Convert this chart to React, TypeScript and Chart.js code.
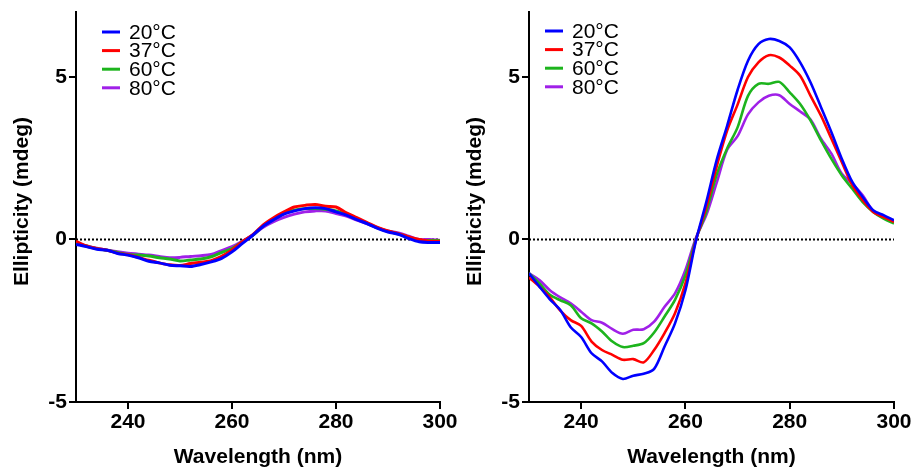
import React, { useEffect, useRef } from 'react';
import { Chart, registerables } from 'chart.js';

Chart.register(...registerables);

// ---- data ----
const wavelengths = [230, 232, 234, 236, 238, 240, 242, 244, 246, 248, 250, 252, 254, 256, 258, 260, 262, 264, 266, 268, 270, 272, 274, 276, 278, 280, 282, 284, 286, 288, 290, 292, 294, 296, 298, 300];
const seriesLabels = ['20°C', '37°C', '60°C', '80°C'];
const seriesColors = ['#0000ff', '#ff0000', '#1db41d', '#a020e8'];
const xTickValues = [240, 260, 280, 300];
const yTickValues = [-5, 0, 5];
const xTitle = 'Wavelength (nm)';
const yTitle = 'Ellipticity (mdeg)';

// left panel
const left20 = [-0.15, -0.22, -0.30, -0.33, -0.43, -0.48, -0.56, -0.67, -0.72, -0.79, -0.81, -0.83, -0.77, -0.69, -0.58, -0.38, -0.12, 0.13, 0.41, 0.61, 0.78, 0.88, 0.95, 0.98, 0.95, 0.85, 0.75, 0.61, 0.49, 0.34, 0.23, 0.16, 0.03, -0.07, -0.09, -0.09];
const left37 = [-0.05, -0.20, -0.28, -0.33, -0.42, -0.47, -0.55, -0.64, -0.72, -0.78, -0.80, -0.74, -0.70, -0.65, -0.52, -0.32, -0.07, 0.15, 0.45, 0.67, 0.85, 1.00, 1.05, 1.08, 1.02, 1.00, 0.82, 0.67, 0.52, 0.37, 0.26, 0.18, 0.08, 0.00, -0.05, -0.05];
const left60 = [-0.12, -0.20, -0.28, -0.33, -0.40, -0.46, -0.48, -0.51, -0.56, -0.60, -0.66, -0.63, -0.60, -0.53, -0.40, -0.28, -0.07, 0.13, 0.42, 0.62, 0.80, 0.90, 0.95, 0.95, 0.93, 0.88, 0.77, 0.63, 0.50, 0.36, 0.25, 0.17, 0.07, -0.02, -0.03, -0.03];
const left80 = [-0.12, -0.20, -0.27, -0.33, -0.38, -0.42, -0.45, -0.48, -0.52, -0.56, -0.55, -0.52, -0.50, -0.46, -0.34, -0.22, -0.05, 0.14, 0.38, 0.55, 0.68, 0.78, 0.85, 0.88, 0.88, 0.80, 0.72, 0.60, 0.48, 0.36, 0.26, 0.20, 0.10, 0.00, 0.00, -0.02];

// right panel
const right20 = [-1.04, -1.45, -1.84, -2.17, -2.70, -3.00, -3.50, -3.75, -4.11, -4.29, -4.19, -4.13, -3.98, -3.29, -2.58, -1.56, -0.05, 1.15, 2.45, 3.50, 4.60, 5.50, 6.01, 6.17, 6.11, 5.91, 5.45, 4.83, 4.07, 3.30, 2.48, 1.77, 1.31, 0.90, 0.75, 0.59];
const right37 = [-1.17, -1.45, -1.78, -2.19, -2.48, -2.66, -3.14, -3.40, -3.55, -3.70, -3.68, -3.78, -3.40, -2.88, -2.27, -1.35, -0.03, 1.00, 2.25, 3.35, 4.15, 5.00, 5.45, 5.67, 5.60, 5.35, 5.04, 4.42, 3.81, 3.10, 2.38, 1.67, 1.21, 0.85, 0.69, 0.54];
const right60 = [-1.04, -1.35, -1.70, -1.87, -2.02, -2.42, -2.58, -2.83, -3.14, -3.31, -3.27, -3.19, -2.86, -2.37, -1.86, -1.10, 0.00, 0.85, 2.00, 2.80, 3.45, 4.42, 4.79, 4.79, 4.85, 4.53, 4.17, 3.66, 3.05, 2.48, 1.97, 1.56, 1.15, 0.85, 0.64, 0.49];
const right80 = [-1.04, -1.25, -1.56, -1.78, -1.96, -2.22, -2.48, -2.56, -2.76, -2.90, -2.78, -2.76, -2.53, -2.07, -1.66, -0.94, 0.05, 0.75, 1.75, 2.76, 3.18, 3.85, 4.22, 4.42, 4.44, 4.17, 3.94, 3.69, 3.10, 2.64, 2.02, 1.72, 1.36, 0.88, 0.69, 0.54];

const FONT = "'Liberation Sans', Arial, sans-serif";

const lineLegend = {
  id: 'lineLegend',
  afterDraw(chart: any, _args: any, opts: any) {
    const ctx = chart.ctx;
    ctx.save();
    ctx.font = `21px ${FONT}`;
    ctx.textBaseline = 'middle';
    ctx.textAlign = 'left';
    seriesLabels.forEach((lab, i) => {
      const y = opts.y0 + i * opts.dy;
      ctx.strokeStyle = seriesColors[i];
      ctx.lineWidth = 3;
      ctx.beginPath();
      ctx.moveTo(opts.x0, y);
      ctx.lineTo(opts.x0 + 18, y);
      ctx.stroke();
      ctx.fillStyle = '#000';
      ctx.fillText(lab, opts.x0 + 27, y + 1);
    });
    // rotated y-axis title
    ctx.save();
    ctx.translate(opts.titleX, opts.titleY);
    ctx.rotate(-Math.PI / 2);
    ctx.font = `bold 21px ${FONT}`;
    ctx.textAlign = 'center';
    ctx.textBaseline = 'middle';
    ctx.fillStyle = '#000';
    ctx.fillText(yTitle, 0, 0);
    ctx.restore();
    ctx.restore();
  },
};

type PanelProps = {
  series: number[][];
  left: number;
  yAxisWidth: number;
  padRight: number;
  titleX: number;
  legendX: number;
  legendY: number;
  lineWidth: number;
};

function Panel({ series, left, yAxisWidth, padRight, titleX, legendX, legendY, lineWidth }: PanelProps) {
  const ref = useRef<HTMLCanvasElement>(null);
  useEffect(() => {
    const datasets: any[] = series.map((arr, i) => ({
      label: seriesLabels[i],
      data: wavelengths.map((x, j) => ({ x, y: arr[j] })),
      borderColor: seriesColors[i],
      backgroundColor: seriesColors[i],
      borderWidth: lineWidth,
      pointRadius: 0,
      tension: 0.3,
      fill: false,
    }));
    datasets.push({
      label: 'zero',
      data: [{ x: wavelengths[0], y: 0 }, { x: wavelengths[wavelengths.length - 1], y: 0 }],
      borderColor: '#000',
      borderWidth: 2,
      borderDash: [2, 2],
      pointRadius: 0,
      fill: false,
    });
    const tickFont = { family: FONT, size: 21, weight: 'bold' as const };
    const chart = new Chart(ref.current!, {
      type: 'line',
      data: { datasets },
      plugins: [lineLegend as any],
      options: {
        responsive: false,
        animation: false,
        layout: { padding: { left: 0, right: padRight, top: 12, bottom: 0 } },
        plugins: {
          legend: { display: false },
          tooltip: { enabled: false },
          lineLegend: { x0: legendX, y0: legendY, dy: 18.6, titleX, titleY: 201.5 },
        } as any,
        scales: {
          x: {
            type: 'linear',
            min: 230,
            max: 300,
            afterBuildTicks: (s: any) => {
              s.ticks = xTickValues.map((v) => ({ value: v }));
            },
            afterFit: (s: any) => {
              s.height = 67;
              s.paddingLeft = 0;
              s.paddingRight = 0;
            },
            ticks: { font: tickFont, color: '#000', padding: 1, maxRotation: 0, autoSkip: false },
            grid: { drawOnChartArea: false, drawTicks: true, tickLength: 7, lineWidth: 2, tickWidth: 2, tickColor: '#000', color: '#000' },
            border: { display: true, color: '#000', width: 2 },
            title: { display: true, text: xTitle, font: tickFont, color: '#000', padding: { top: 0, bottom: -1 } },
          },
          y: {
            type: 'linear',
            min: -5,
            max: 7,
            afterBuildTicks: (s: any) => {
              s.ticks = yTickValues.map((v) => ({ value: v }));
            },
            afterFit: (s: any) => {
              s.width = yAxisWidth;
              s.paddingTop = 0;
              s.paddingBottom = 0;
            },
            ticks: { font: tickFont, color: '#000', padding: 2 },
            grid: { drawOnChartArea: false, drawTicks: true, tickLength: 7, lineWidth: 2, tickWidth: 2, tickColor: '#000', color: '#000' },
            border: { display: true, color: '#000', width: 2 },
            title: { display: false },
          },
        },
      },
    });
    return () => chart.destroy();
  }, []);
  return (
    <canvas
      ref={ref}
      width={457}
      height={469}
      style={{ position: 'absolute', left, top: 0, width: 457, height: 469, display: 'block' }}
    />
  );
}

export default function App() {
  return (
    <div style={{ position: 'absolute', left: 0, top: 0, width: 914, height: 469, background: '#fff' }}>
      <Panel series={[left20, left37, left60, left80]} left={0} yAxisWidth={76} padRight={17} titleX={22.5} legendX={102} legendY={32} lineWidth={3} />
      <Panel series={[right20, right37, right60, right80]} left={457} yAxisWidth={72} padRight={20} titleX={18.5} legendX={88} legendY={31} lineWidth={2.6} />
    </div>
  );
}
